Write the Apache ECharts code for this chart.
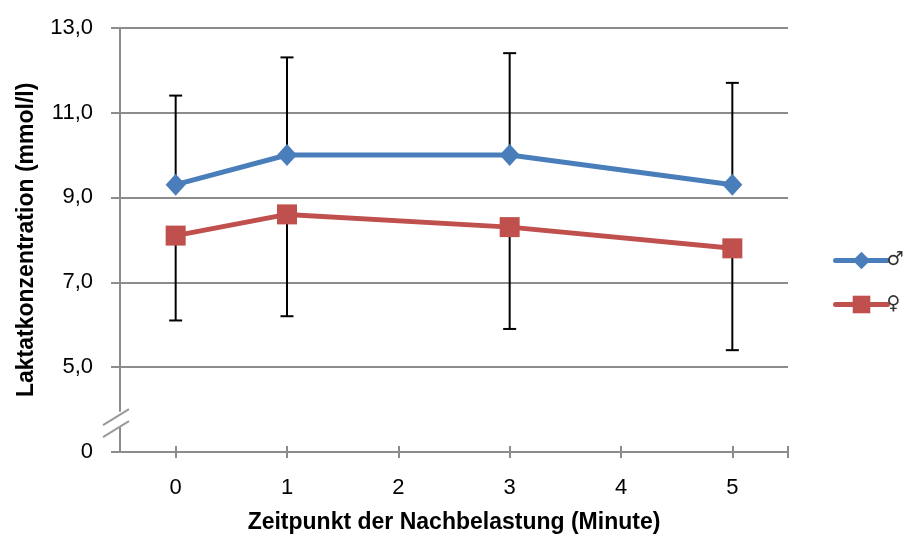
<!DOCTYPE html>
<html>
<head>
<meta charset="utf-8">
<script src="https://cdn.jsdelivr.net/npm/echarts@6/dist/echarts.min.js"></script>
<style>
  html, body { margin: 0; padding: 0; background: #fff; }
  #chart { width: 904px; height: 539px; }
</style>
</head>
<body>
<div id="chart"></div>
<script>
// Post-exercise lactate, mean with one-sided SD bars
const minutes = [0, 1, 3, 5];
const xTickLabels = [0, 1, 2, 3, 4, 5];
const maleMean = [9.3, 10.0, 10.0, 9.3];
const maleSD = [2.1, 2.3, 2.4, 2.4];
const femaleMean = [8.1, 8.6, 8.3, 7.8];
const femaleSD = [2.0, 2.4, 2.4, 2.4];
const yTicks = [3, 5, 7, 9, 11, 13]; // 3 marks the broken-axis origin, labelled "0"

const FONT = 'Liberation Sans, sans-serif';
const GRID_GRAY = '#8c8c8c';
const BLUE = '#4a7ebb';
const RED = '#c0504d';

const chart = echarts.init(document.getElementById('chart'));

function pairs(xs, ys) { return xs.map((x, i) => [x, ys[i]]); }

// one-sided error bar: dir = +1 up, -1 down
function errorBars(means, sds, dir) {
  return {
    type: 'custom',
    z: 1,
    silent: true,
    data: minutes.map((x, i) => [x, means[i], means[i] + dir * sds[i]]),
    renderItem: function (params, api) {
      const p0 = api.coord([api.value(0), api.value(1)]);
      const p1 = api.coord([api.value(0), api.value(2)]);
      const half = 6.5;
      const style = { stroke: '#000', lineWidth: 2 };
      return {
        type: 'group',
        children: [
          { type: 'line', shape: { x1: p0[0], y1: p0[1], x2: p1[0], y2: p1[1] }, style: style },
          { type: 'line', shape: { x1: p1[0] - half, y1: p1[1], x2: p1[0] + half, y2: p1[1] }, style: style }
        ]
      };
    }
  };
}

const yFormat = v => v === yTicks[0] ? '0' : v.toFixed(1).replace('.', ',');

chart.setOption({
  animation: false,
  grid: { left: 120, right: 116, top: 27.7, bottom: 87 },
  legend: {
    orient: 'vertical',
    left: 828,
    top: 246,
    itemWidth: 52,
    itemHeight: 22,
    itemGap: 25,
    lineStyle: { width: 5, cap: 'round' },
    textStyle: { fontFamily: 'DejaVu Sans', fontSize: 19, color: '#333', padding: [0, 0, 0, -6] },
    data: ['♂', '♀']
  },
  xAxis: [{
    type: 'value',
    min: -0.5,
    max: 5.5,
    name: 'Zeitpunkt der Nachbelastung (Minute)',
    nameLocation: 'middle',
    nameGap: 59,
    nameTextStyle: { fontFamily: FONT, fontWeight: 'bold', fontSize: 23, color: '#000' },
    axisLine: { onZero: false, lineStyle: { color: GRID_GRAY, width: 2 } },
    axisTick: { show: true, length: 6, customValues: [0, 1, 2, 3, 4, 5, 5.5], lineStyle: { color: GRID_GRAY, width: 2 } },
    axisLabel: { customValues: xTickLabels, margin: 25, fontFamily: FONT, fontSize: 22, color: '#000' },
    splitLine: { show: false }
  }, {
    type: 'value',
    min: -0.5,
    max: 5.5,
    position: 'bottom',
    axisLine: { show: false, onZero: false },
    axisTick: { show: true, inside: true, length: 6, customValues: [0, 1, 2, 3, 4, 5, 5.5], lineStyle: { color: GRID_GRAY, width: 2 } },
    axisLabel: { show: false },
    splitLine: { show: false }
  }],
  yAxis: {
    type: 'value',
    min: 3,
    max: 13,
    interval: 2,
    position: 'left',
    name: 'Laktatkonzentration (mmol/l)',
    nameLocation: 'middle',
    nameRotate: 90,
    nameGap: 82,
    nameTextStyle: { fontFamily: FONT, fontWeight: 'bold', fontSize: 23, color: '#000' },
    axisLine: { show: true, onZero: false, lineStyle: { color: GRID_GRAY, width: 2 } },
    axisTick: { show: true, length: 9, lineStyle: { color: GRID_GRAY, width: 2 } },
    axisLabel: { formatter: yFormat, margin: 27, fontFamily: FONT, fontSize: 22, color: '#000' },
    splitLine: { show: true, lineStyle: { color: GRID_GRAY, width: 2 } }
  },
  series: [
    errorBars(maleMean, maleSD, 1),
    errorBars(femaleMean, femaleSD, -1),
    {
      name: '♂',
      type: 'line',
      z: 3,
      data: pairs(minutes, maleMean),
      symbol: 'diamond',
      symbolSize: [20, 22],
      lineStyle: { color: BLUE, width: 5 },
      itemStyle: { color: BLUE },
      emphasis: { disabled: true }
    },
    {
      name: '♀',
      type: 'line',
      z: 3,
      data: pairs(minutes, femaleMean),
      symbol: 'rect',
      symbolSize: 20,
      lineStyle: { color: RED, width: 5 },
      itemStyle: { color: RED },
      emphasis: { disabled: true }
    }
  ]
});

// axis-break marker on the y axis between the origin and 5,0
function drawBreak() {
  const top = chart.convertToPixel({ yAxisIndex: 0 }, 3.95);
  const bot = chart.convertToPixel({ yAxisIndex: 0 }, 3.6);
  const x = chart.convertToPixel({ xAxisIndex: 0 }, -0.5);
  const mid = (top + bot) / 2;
  const lineStyle = { stroke: '#9a9a9a', lineWidth: 2 };
  chart.setOption({
    graphic: [
      { type: 'rect', shape: { x: x - 3, y: top, width: 6, height: bot - top }, style: { fill: '#fff' }, z: 10 },
      { type: 'line', shape: { x1: x - 17, y1: mid + 6, x2: x + 9, y2: mid - 10 }, style: lineStyle, z: 11 },
      { type: 'line', shape: { x1: x - 17, y1: mid + 18, x2: x + 9, y2: mid + 2 }, style: lineStyle, z: 11 }
    ]
  });
}
drawBreak();
</script>
</body>
</html>
